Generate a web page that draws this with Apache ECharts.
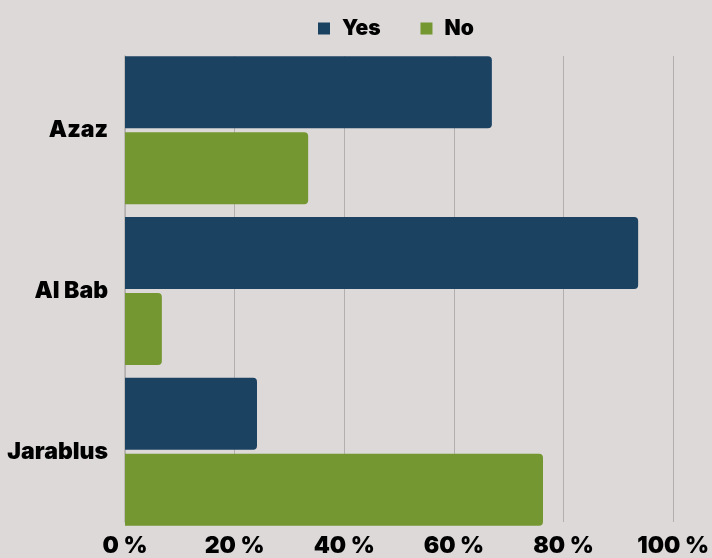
<!DOCTYPE html>
<html>
<head>
<meta charset="utf-8">
<script src="https://cdn.jsdelivr.net/npm/echarts@6/dist/echarts.min.js"></script>
<style>
  html, body { margin: 0; padding: 0; background: #dcd9d8; }
  #chart { width: 712px; height: 558px; }
</style>
</head>
<body>
<div id="chart"></div>
<script>
// Share of answers per town, in percent
const categories = ['Azaz', 'Al Bab', 'Jarablus'];
const yesValues = [66.7, 93.3, 24.0];
const noValues = [33.3, 6.7, 76.0];
const seriesNames = ['Yes', 'No'];

const FONT = 'Inter';
const YES_COLOR = '#1c4262';
const NO_COLOR = '#749732';
const GRID_COLOR = '#b3afae';

const chart = echarts.init(document.getElementById('chart'));

// Grid 0 carries the value axis, its gridlines and the left axis line;
// grid 1 is a little taller so the bar groups touch the plot edges.
chart.setOption({
  backgroundColor: '#dcd9d8',
  animation: false,
  legend: {
    data: seriesNames,
    left: 318,
    top: 18,
    padding: 0,
    itemWidth: 12,
    itemHeight: 12,
    itemGap: 40,
    icon: 'rect',
    textStyle: {
      fontFamily: FONT,
      fontWeight: 900,
      fontSize: 21,
      color: '#000',
      padding: [0, 0, 0, 7]
    }
  },
  grid: [
    { left: 125, right: 37, top: 56, bottom: 32, containLabel: false },
    { left: 125, right: 37, top: 50, bottom: 26, containLabel: false }
  ],
  xAxis: [
    {
      gridIndex: 0,
      type: 'value',
      min: 0,
      max: 100,
      interval: 20,
      axisLine: { show: false },
      axisTick: { show: false },
      splitLine: { show: true, lineStyle: { color: GRID_COLOR, width: 1 } },
      axisLabel: {
        formatter: '{value} %',
        margin: 13,
        fontFamily: FONT,
        fontWeight: 900,
        fontSize: 23,
        color: '#000'
      }
    },
    {
      gridIndex: 1,
      type: 'value',
      min: 0,
      max: 100,
      interval: 20,
      show: false
    }
  ],
  yAxis: [
    {
      gridIndex: 0,
      type: 'category',
      data: categories,
      inverse: true,
      axisLine: { show: true, lineStyle: { color: GRID_COLOR, width: 1.5 } },
      axisTick: { show: false },
      axisLabel: { show: false },
      splitLine: { show: false }
    },
    {
      gridIndex: 1,
      type: 'category',
      data: categories,
      inverse: true,
      axisLine: { show: false },
      axisTick: { show: false },
      axisLabel: {
        margin: 17,
        fontFamily: FONT,
        fontWeight: 900,
        fontSize: 23,
        color: '#000',
        padding: [2, 0, 0, 0]
      }
    }
  ],
  series: [
    {
      name: seriesNames[0],
      type: 'bar',
      xAxisIndex: 1,
      yAxisIndex: 1,
      data: yesValues,
      barWidth: 72,
      barGap: '5.5%',
      itemStyle: { color: YES_COLOR, borderRadius: [0, 4, 4, 0] }
    },
    {
      name: seriesNames[1],
      type: 'bar',
      xAxisIndex: 1,
      yAxisIndex: 1,
      data: noValues,
      barWidth: 72,
      barGap: '5.5%',
      itemStyle: { color: NO_COLOR, borderRadius: [0, 4, 4, 0] }
    }
  ]
});
</script>
</body>
</html>
